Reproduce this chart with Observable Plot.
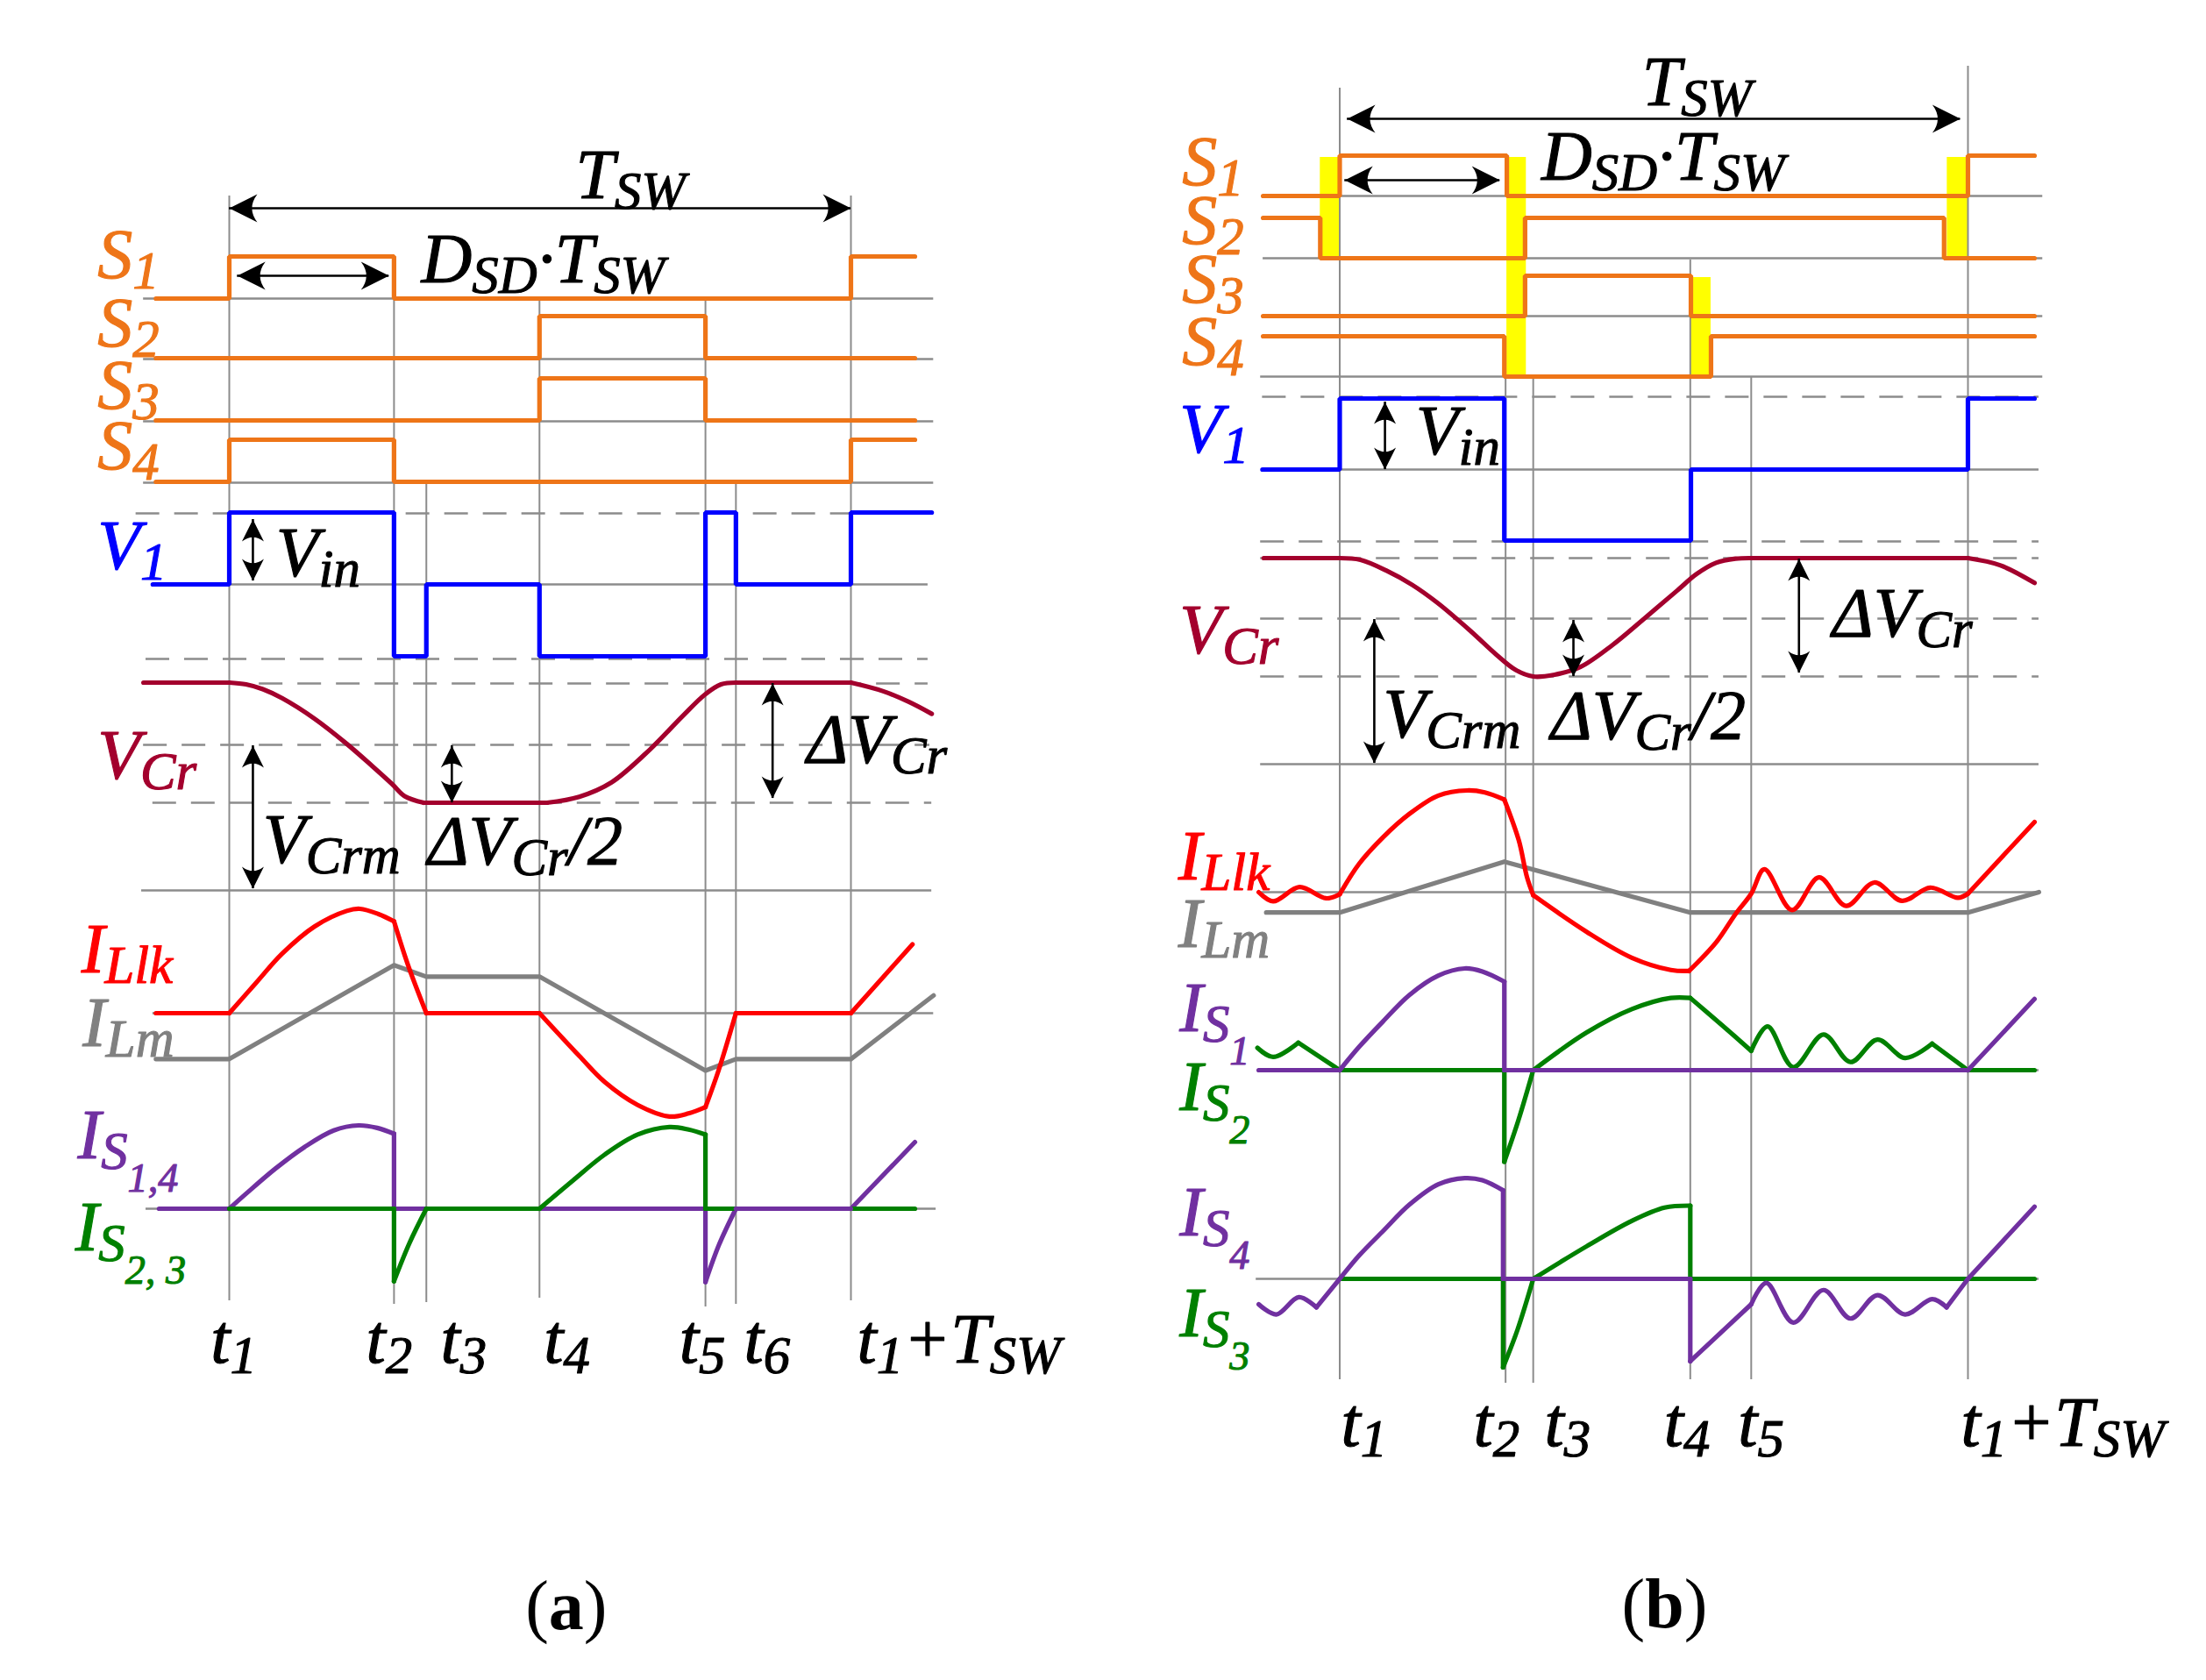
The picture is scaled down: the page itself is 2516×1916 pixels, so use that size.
<!DOCTYPE html>
<html>
<head>
<meta charset="utf-8">
<script src="https://cdn.jsdelivr.net/npm/d3@7"></script>
<script src="https://cdn.jsdelivr.net/npm/@observablehq/plot@0.6"></script>
<style>
  html, body { margin: 0; padding: 0; background: #ffffff; }
  #fig { position: relative; width: 2516px; height: 1916px; background: #ffffff; overflow: hidden; }
  #fig svg { position: absolute; top: 0; }
</style>
</head>
<body>
<div id="fig"></div>
<script>
// ===================== DATA (times normalised: t1 = 0, T_SW = 100) =====================
// ---- panel (a) ----
const eventsA = [0, 26.5, 31.7, 49.9, 76.6, 81.5, 100];
const eventLabelsA = ["t_1", "t_2", "t_3", "t_4", "t_5", "t_6", "t_1+T_{SW}"];
// gate signals [time, state]; state is held until the next time
const s1A = [[-11.8, 0], [0, 1], [26.5, 0], [100, 1], [110.3, 1]];
const s2A = [[-11.8, 0], [49.9, 1], [76.6, 0], [110.3, 0]];
const s3A = [[-11.8, 0], [49.9, 1], [76.6, 0], [110.3, 0]];
const s4A = [[-11.8, 0], [0, 1], [26.5, 0], [100, 1], [110.3, 1]];
// transformer primary voltage, in units of V_in
const v1A = [[-12.3, 0], [0, 1], [26.5, -1], [31.7, 0], [49.9, -1], [76.6, 1], [81.5, 0], [100, 1], [113, 1]];
// resonant capacitor voltage (+1 = V_Crm + ΔV_Cr/2, -1 = V_Crm - ΔV_Cr/2), smooth segments
const vCrA = [
  [[-13.8, 1], [0, 1]],
  [[0, 1], [2.7, 0.97], [5.4, 0.89], [8.5, 0.74], [13.7, 0.40], [18.9, -0.02], [23.0, -0.39], [26.2, -0.69], [28.2, -0.89], [31.3, -1]],
  [[31.3, -1], [51.1, -1]],
  [[51.1, -1], [56.3, -0.90], [61.5, -0.66], [67.7, -0.11], [72.9, 0.44], [76.5, 0.80], [79.1, 0.97], [81.5, 1]],
  [[81.5, 1], [100, 1]],
  [[100, 1], [105.1, 0.86], [109.3, 0.68], [113, 0.48]]
];
// leakage-inductance current (normalised to its peak), smooth segments
const iLlkA = [
  [[-11.8, 0], [0, 0]],
  [[0, 0], [4.3, 0.29], [8.5, 0.57], [13.7, 0.83], [18.9, 0.98], [21, 1.0], [24, 0.95], [26.5, 0.88]],
  [[26.5, 0.88], [28.7, 0.47], [31.7, 0]],
  [[31.7, 0], [49.9, 0]],
  [[49.9, 0], [56.3, -0.41], [60.4, -0.66], [65.7, -0.88], [70.8, -0.99], [73.9, -0.96], [76.6, -0.90]],
  [[76.6, -0.90], [78.7, -0.55], [81.5, 0]],
  [[81.5, 0], [100, 0]],
  [[100, 0], [109.9, 0.66]]
];
// magnetising current (piecewise linear)
const iLmA = [[-11.8, -0.44], [0, -0.44], [26.5, 0.46], [31.7, 0.35], [49.9, 0.35], [76.6, -0.55], [81.5, -0.44], [100, -0.44], [113.3, 0.17]];
// switch currents
const iS14A = [
  [[-11.3, 0], [0, 0]],
  [[0, 0], [2.7, 0.18], [7.4, 0.48], [12.1, 0.74], [16.8, 0.94], [20.8, 1.0], [23.8, 0.97], [26.5, 0.9]],
  [[26.5, 0.9], [26.5, 0]],
  [[26.5, 0], [76.6, 0]],
  [[76.6, 0], [76.6, -0.88]],
  [[76.6, -0.88], [78.8, -0.43], [81.5, 0]],
  [[81.5, 0], [100, 0]],
  [[100, 0], [110.3, 0.8]]
];
const iS23A = [
  [[0, 0], [26.5, 0]],
  [[26.5, 0], [26.5, -0.87]],
  [[26.5, -0.87], [29.0, -0.41], [31.7, 0]],
  [[31.7, 0], [49.9, 0]],
  [[49.9, 0], [55.3, 0.34], [60.4, 0.65], [65.7, 0.89], [70.8, 0.98], [73.9, 0.95], [76.6, 0.89]],
  [[76.6, 0.89], [76.6, 0]],
  [[76.6, 0], [81.5, 0]],
  [[81.5, 0], [100, 0]],
  [[100, 0], [110.3, 0]]
];

// ---- panel (b) ----
const eventsB = [0, 26.4, 30.8, 55.8, 65.5, 100];
const eventLabelsB = ["t_1", "t_2", "t_3", "t_4", "t_5", "t_1+T_{SW}"];
const s1B = [[-12.2, 0], [0, 1], [26.6, 0], [100, 1], [110.6, 1]];
const s2B = [[-12.2, 1], [-3.1, 0], [29.5, 1], [96.2, 0], [110.6, 0]];
const s3B = [[-12.2, 0], [29.5, 1], [55.9, 0], [110.6, 0]];
const s4B = [[-12.2, 1], [26.2, 0], [59.1, 1], [110.6, 1]];
// dead-time intervals (highlighted)
const deadStartB = [-3.1, 26.6, 55.9, 96.7];
const deadEndB = [0, 29.7, 59.1, 100];
const deadUpperRowB = [0, 0, 2, 0];   // index of the upper gate row involved
const deadLowerRowB = [1, 3, 3, 1];   // index of the lower gate row involved
const v1B = [[-12.3, 0], [0, 1], [26.2, -1], [55.9, 0], [100, 1], [110.6, 1]];
const vCrB = [
  [[-12.1, 1], [0, 1]],
  [[0, 1], [3.3, 0.97], [7.4, 0.79], [11.5, 0.55], [15.6, 0.24], [20.8, -0.23], [24.9, -0.63], [28.0, -0.89], [30.8, -1.0],
   [34.2, -0.97], [38.3, -0.84], [43.4, -0.47], [48.6, -0.01], [53.7, 0.45], [56.8, 0.73], [59.9, 0.92], [63.0, 0.99], [65.5, 1]],
  [[65.5, 1], [100, 1]],
  [[100, 1], [105.1, 0.88], [110.6, 0.58]]
];
const iLlkB = [
  [[-12.9, 0.0], [-10.6, -0.09], [-6.4, 0.05], [-2.2, -0.06], [0, -0.02]],
  [[0, -0.02], [3.1, 0.28], [6.9, 0.54], [11.1, 0.77], [15.7, 0.95], [20.3, 1.0], [23.1, 0.98], [26.2, 0.91]],
  [[26.2, 0.91], [28.5, 0.51], [29.8, 0.15], [30.8, -0.03]],
  [[30.8, -0.03], [39.3, -0.39], [46.5, -0.645], [52.7, -0.765], [55.6, -0.775]],
  [[55.6, -0.775], [59.9, -0.495], [63.0, -0.215], [65.5, -0.015], [67.6, 0.225], [72.0, -0.175], [76.3, 0.145], [80.6, -0.135],
   [85.1, 0.095], [89.5, -0.085], [94.0, 0.045], [98.4, -0.055], [100, -0.015]],
  [[100, -0.015], [110.6, 0.69]]
];
const iLmB = [[-11.7, -0.2], [0, -0.2], [26.2, 0.3], [55.8, -0.2], [100, -0.2], [111.3, 0.0]];
const iS1B = [
  [[-12.9, 0], [0, 0]],
  [[0, 0], [3.1, 0.23], [6.9, 0.48], [11.1, 0.74], [15.7, 0.93], [19.9, 1.0], [22.7, 0.97], [26.2, 0.87]],
  [[26.2, 0.87], [26.2, 0]],
  [[26.2, 0], [100, 0]],
  [[100, 0], [110.6, 0.7]]
];
const iS2B = [
  [[-13.1, 0.22], [-10.6, 0.13], [-6.6, 0.27]],
  [[-6.6, 0.27], [0, 0]],
  [[0, 0], [26.2, 0]],
  [[26.2, 0], [26.2, -0.9]],
  [[26.2, -0.9], [28.4, -0.5], [30.8, 0]],
  [[30.8, 0], [39.3, 0.37], [46.5, 0.60], [52.7, 0.71], [55.8, 0.71]],
  [[55.8, 0.71], [60.9, 0.44], [65.5, 0.19]],
  [[65.5, 0.19], [68.1, 0.43], [72.2, 0.03], [77.0, 0.35], [81.3, 0.08], [85.6, 0.30], [90.0, 0.12], [94.3, 0.26]],
  [[94.3, 0.26], [100, 0]],
  [[100, 0], [110.6, 0]]
];
const iS4B = [
  [[-12.9, -0.25], [-10.1, -0.35], [-6.5, -0.18], [-3.7, -0.28]],
  [[-3.7, -0.28], [0, 0], [3.1, 0.23], [6.9, 0.47], [11.1, 0.73], [15.7, 0.93], [19.9, 0.99], [22.7, 0.97], [26.0, 0.87]],
  [[26.0, 0.87], [26.0, 0]],
  [[26.0, 0], [55.8, 0]],
  [[55.8, 0], [55.8, -0.81]],
  [[55.8, -0.81], [65.5, -0.25]],
  [[65.5, -0.25], [67.9, -0.04], [72.2, -0.43], [77.0, -0.11], [81.3, -0.39], [85.6, -0.16], [90.0, -0.35], [94.3, -0.2], [96.6, -0.28]],
  [[96.6, -0.28], [100, 0]],
  [[100, 0], [110.6, 0.71]]
];
const iS3B = [
  [[0, 0], [26.0, 0]],
  [[26.0, 0], [26.0, -0.87]],
  [[26.0, -0.87], [28.3, -0.5], [30.8, 0]],
  [[30.8, 0], [39.3, 0.32], [46.5, 0.57], [51.7, 0.70], [55.8, 0.72]],
  [[55.8, 0.72], [55.8, 0]],
  [[55.8, 0], [110.6, 0]]
];

// label texts (underscore = subscript)
const rowLabelsA = ["S_1", "S_2", "S_3", "S_4", "V_1", "V_{Cr}", "I_{Llk}", "I_{Lm}", "I_{S_{1,4}}", "I_{S_{2, 3}}"];
const rowLabelsB = ["S_1", "S_2", "S_3", "S_4", "V_1", "V_{Cr}", "I_{Llk}", "I_{Lm}", "I_{S_1}", "I_{S_2}", "I_{S_4}", "I_{S_3}"];
const noteLabels = ["T_{SW}", "D_{SD}·T_{SW}", "V_{in}", "V_{Crm}", "ΔV_{Cr}/2", "ΔV_{Cr}"];
const captions = ["(a)", "(b)"];

// ===================== STYLE / LAYOUT =====================
const ORANGE = "#EE7518", BLUE = "#0000FF", VCR = "#A3002D", RED = "#FF0000", GRAYW = "#808080",
      PURPLE = "#7030A0", GREEN = "#008000", YELLOW = "#FFFF00", GRID = "#8C8C8C", BLACK = "#000000";
const FONT = "'Liberation Serif', 'DejaVu Serif', serif";
const LW = 5.2;

const rowColorsA = [ORANGE, ORANGE, ORANGE, ORANGE, BLUE, VCR, RED, GRAYW, PURPLE, GREEN];
const rowColorsB = [ORANGE, ORANGE, ORANGE, ORANGE, BLUE, VCR, RED, GRAYW, PURPLE, GREEN, PURPLE, GREEN];

const layoutA = {
  left: 0, xRange: [261, 970],
  sBase: [340, 408, 479, 549], sAmp: 48,
  v1Base: 666, v1Amp: 82,
  vcrMid: 846.5, vcrAmp: 68.5,
  iLBase: 1155, iLAmp: 119,
  iSBase: 1378, iSAmp: 95,
  hlines: [
    {y: 340, a: -13.8, b: 113.3}, {y: 409, a: -13.8, b: 113.3}, {y: 480, a: -13.8, b: 113.3}, {y: 550, a: -13.8, b: 113.3},
    {y: 585, a: -15.0, b: 112.4, dash: true}, {y: 666, a: -12.3, b: 112.4}, {y: 751, a: -13.4, b: 112.4, dash: true},
    {y: 779, a: -13.8, b: 112.4, dash: true}, {y: 849, a: -13.8, b: 112.7, dash: true}, {y: 915, a: -12.3, b: 113, dash: true},
    {y: 1015, a: -14.1, b: 113}, {y: 1155, a: -12.3, b: 113.3}, {y: 1378, a: -13.4, b: 113.7}
  ],
  gridTop: [223, 341, 552, 341, 338, 552, 223],
  gridBottom: [1483, 1487, 1485, 1480, 1490, 1487, 1483],
  labelX: [-21.2, -21.2, -21.2, -21.2, -21.2, -21.2, -23.8, -23.6, -24.4, -24.8],
  labelY: [316, 394, 465, 534, 648, 887, 1108, 1192, 1320, 1425],
  noteX: [55.7, 30.9, 7.5, 5.4, 31.9, 92.9],
  noteY: [225, 321, 656, 983, 985, 869],
  tickX: [-3.0, 22.0, 34.0, 50.6, 72.4, 82.8, 101.0],
  tickY: 1553,
  capX: 54.2, capY: 1832,
  hArrows: [{y: 237, a: 0, b: 100}, {y: 314, a: 1.3, b: 25.7}],
  vArrows: [{t: 3.8, top: 592, bottom: 662}, {t: 3.8, top: 850, bottom: 1013}, {t: 35.8, top: 850, bottom: 915}, {t: 87.4, top: 779, bottom: 910}]
};
const layoutB = {
  left: 1258, xRange: [1527.5 - 1258, 2244 - 1258],
  sBase: [223, 294, 360, 429], sAmp: 46,
  v1Base: 535, v1Amp: 81,
  vcrMid: 703.5, vcrAmp: 67.5,
  iLBase: 1017, iLAmp: 116,
  iS1Base: 1220, iS4Base: 1458, iSAmp: 116,
  hlines: [
    {y: 223, a: -12.2, b: 111.9}, {y: 294, a: -12.2, b: 111.9}, {y: 360, a: -12.2, b: 111.9}, {y: 429, a: -12.6, b: 111.9},
    {y: 452, a: -12.3, b: 111.3, dash: true}, {y: 535, a: -12.2, b: 111.3}, {y: 617, a: -12.6, b: 111.3, dash: true},
    {y: 636, a: -12.6, b: 111.3, dash: true}, {y: 705, a: -12.6, b: 111.3, dash: true}, {y: 771, a: -12.6, b: 111.3, dash: true},
    {y: 871, a: -12.6, b: 111.3}, {y: 1017, a: -12.6, b: 111.3}, {y: 1220, a: -12.6, b: 111.3}, {y: 1458, a: -13.3, b: 111.3}
  ],
  gridTop: [100, 429, 429, 296, 429, 75],
  gridBottom: [1573, 1577, 1577, 1573, 1573, 1573],
  labelX: [-25.1, -25.1, -25.1, -25.1, -25.5, -25.5, -25.7, -25.7, -25.5, -25.5, -25.5, -25.5],
  labelY: [210, 277, 344, 415, 515, 744, 1002, 1079, 1175, 1265, 1408, 1523],
  noteX: [48.1, 32.1, 12.1, 6.9, 33.6, 78.4],
  noteY: [119, 204, 517, 840, 842, 725],
  tickX: [0.2, 21.3, 32.6, 51.6, 63.4, 98.9],
  tickY: 1648,
  capX: 51.7, capY: 1830,
  hArrows: [{y: 135, a: 1.2, b: 98.8}, {y: 205, a: 0.8, b: 25.5}],
  vArrows: [{t: 7.2, top: 458, bottom: 535}, {t: 5.5, top: 706, bottom: 870}, {t: 37.2, top: 707, bottom: 771}, {t: 73.1, top: 637, bottom: 767}]
};

// ===================== HELPERS =====================
function stepRows(pts, base, amp, key) {
  return pts.map(([t, v]) => ({t, y: base - v * amp, z: key}));
}
function segRows(segs, base, amp, key) {
  return segs.flatMap((seg, i) => seg.map(([t, v]) => ({t, y: base - v * amp, z: key + "-" + i})));
}
function polyRows(pts, base, amp, key) {
  return pts.map(([t, v]) => ({t, y: base - v * amp, z: key}));
}
const headRight = {draw(c, size) { const r = Math.sqrt(size / Math.PI); c.moveTo(0, 0); c.lineTo(-r, -0.5 * r); c.quadraticCurveTo(-0.62 * r, 0, -r, 0.5 * r); c.closePath(); }};
const headLeft  = {draw(c, size) { const r = Math.sqrt(size / Math.PI); c.moveTo(0, 0); c.lineTo(r, -0.5 * r); c.quadraticCurveTo(0.62 * r, 0, r, 0.5 * r); c.closePath(); }};
const headUp    = {draw(c, size) { const r = Math.sqrt(size / Math.PI); c.moveTo(0, 0); c.lineTo(-0.5 * r, r); c.quadraticCurveTo(0, 0.62 * r, 0.5 * r, r); c.closePath(); }};
const headDown  = {draw(c, size) { const r = Math.sqrt(size / Math.PI); c.moveTo(0, 0); c.lineTo(-0.5 * r, -r); c.quadraticCurveTo(0, -0.62 * r, 0.5 * r, -r); c.closePath(); }};

function waveLine(rows, color, curve) {
  return Plot.line(rows, {x: "t", y: "y", z: "z", stroke: color, strokeWidth: LW, curve,
    strokeLinecap: "round", strokeLinejoin: curve === "step-after" ? "miter" : "round"});
}

function commonMarks(L, events) {
  const m = [];
  m.push(Plot.ruleY(L.hlines.filter(d => !d.dash), {y: "y", x1: "a", x2: "b", stroke: GRID, strokeWidth: 2.3}));
  m.push(Plot.ruleY(L.hlines.filter(d => d.dash), {y: "y", x1: "a", x2: "b", stroke: GRID, strokeWidth: 2.4, strokeDasharray: "27,17"}));
  const vg = events.map((t, i) => ({t, top: L.gridTop[i], bottom: L.gridBottom[i]}));
  m.push(Plot.ruleX(vg, {x: "t", y1: "top", y2: "bottom", stroke: GRID, strokeWidth: 2}));
  return m;
}
function annotationMarks(L, rowLabels, rowColors, eventLabels, caption) {
  const m = [];
  // arrows
  m.push(Plot.ruleY(L.hArrows, {y: "y", x1: "a", x2: "b", stroke: BLACK, strokeWidth: 2.6}));
  m.push(Plot.dot(L.hArrows, {x: "a", y: "y", r: 32, symbol: headLeft, fill: BLACK, stroke: "none"}));
  m.push(Plot.dot(L.hArrows, {x: "b", y: "y", r: 32, symbol: headRight, fill: BLACK, stroke: "none"}));
  m.push(Plot.ruleX(L.vArrows, {x: "t", y1: "top", y2: "bottom", stroke: BLACK, strokeWidth: 2.6}));
  m.push(Plot.dot(L.vArrows, {x: "t", y: "top", r: 25, symbol: headUp, fill: BLACK, stroke: "none"}));
  m.push(Plot.dot(L.vArrows, {x: "t", y: "bottom", r: 25, symbol: headDown, fill: BLACK, stroke: "none"}));
  // texts
  const rows = rowLabels.map((s, i) => ({t: L.labelX[i], y: L.labelY[i], s, c: rowColors[i]}));
  const notes = noteLabels.map((s, i) => ({t: L.noteX[i], y: L.noteY[i], s, c: BLACK}));
  const ticks = eventLabels.map((s, i) => ({t: L.tickX[i], y: L.tickY, s, c: BLACK}));
  const all = rows.concat(notes, ticks);
  m.push(Plot.text(all, {x: "t", y: "y", text: "s", fill: "c", stroke: "c", strokeWidth: 1.1,
    fontFamily: FONT, fontSize: 80, fontStyle: "italic", textAnchor: "start", lineAnchor: "bottom"}));
  m.push(Plot.text([{t: L.capX, y: L.capY, s: caption}], {x: "t", y: "y", text: "s", fill: BLACK,
    fontFamily: FONT, fontSize: 80, textAnchor: "middle", lineAnchor: "middle"}));
  return m;
}

function plotPanel(L, marks) {
  const svg = Plot.plot({
    width: 1258, height: 1916,
    x: {domain: [0, 100], range: L.xRange, axis: null},
    y: {domain: [0, 1916], range: [0, 1916], axis: null},
    color: {type: "identity"},
    style: {background: "transparent", overflow: "visible"},
    marks
  });
  svg.style.left = L.left + "px";
  return svg;
}

// ---------- subscripts rendered as real text (tspans) ----------
function parseSub(s) {
  const out = [];
  (function rec(str, level) {
    let i = 0, buf = "";
    while (i < str.length) {
      const c = str[i];
      if (c === "_") {
        if (buf) { out.push({text: buf, level}); buf = ""; }
        if (str[i + 1] === "{") {
          let depth = 1, j = i + 2;
          while (j < str.length && depth > 0) { if (str[j] === "{") depth++; else if (str[j] === "}") depth--; j++; }
          rec(str.slice(i + 2, j - 1), level + 1);
          i = j;
        } else { rec(str[i + 1], level + 1); i += 2; }
      } else { buf += c; i++; }
    }
    if (buf) out.push({text: buf, level});
  })(s, 0);
  return out;
}
function richText(svg) {
  const NS = "http://www.w3.org/2000/svg";
  const scale = [1, 0.76, 0.76 * 0.76];
  d3.select(svg).selectAll("text").each(function () {
    const s = this.textContent;
    const cap = /^\((.)\)$/.exec(s);
    if (cap) {
      this.textContent = "";
      [["(", "normal"], [cap[1], "bold"], [")", "normal"]].forEach(([txt, w]) => {
        const ts = document.createElementNS(NS, "tspan");
        ts.setAttribute("font-weight", w);
        ts.textContent = txt;
        this.appendChild(ts);
      });
      return;
    }
    if (!s.includes("_")) return;
    const fs = parseFloat(getComputedStyle(this).fontSize) || 80;
    const segs = parseSub(s);
    this.textContent = "";
    let cur = 0;
    for (const seg of segs) {
      const size = fs * scale[Math.min(seg.level, 2)];
      const off = seg.level === 0 ? 0 : seg.level === 1 ? 0.16 * fs : 0.16 * fs + 0.42 * fs * scale[1];
      const ts = document.createElementNS(NS, "tspan");
      ts.setAttribute("font-size", size.toFixed(1));
      ts.setAttribute("dy", (off - cur).toFixed(1));
      ts.textContent = seg.text;
      this.appendChild(ts);
      cur = off;
    }
  });
}

// ===================== PANEL (a) =====================
const A = layoutA;
const marksA = [
  ...commonMarks(A, eventsA),
  waveLine([s1A, s2A, s3A, s4A].flatMap((s, i) => stepRows(s, A.sBase[i], A.sAmp, "s" + i)), ORANGE, "step-after"),
  waveLine(stepRows(v1A, A.v1Base, A.v1Amp, "v1"), BLUE, "step-after"),
  waveLine(segRows(vCrA, A.vcrMid, A.vcrAmp, "vcr"), VCR, "catmull-rom"),
  waveLine(polyRows(iLmA, A.iLBase, A.iLAmp, "ilm"), GRAYW, "linear"),
  waveLine(segRows(iLlkA, A.iLBase, A.iLAmp, "illk"), RED, "catmull-rom"),
  waveLine(segRows(iS14A, A.iSBase, A.iSAmp, "is14"), PURPLE, "catmull-rom"),
  waveLine(segRows(iS23A, A.iSBase, A.iSAmp, "is23"), GREEN, "catmull-rom"),
  // zero interval t6..t1+Tsw where the S1,4 trace lies on top
  waveLine(segRows(iS14A.filter(sg => sg[0][0] >= 81.5 && sg[sg.length - 1][0] <= 100), A.iSBase, A.iSAmp, "is14top"), PURPLE, "catmull-rom"),
  ...annotationMarks(A, rowLabelsA, rowColorsA, eventLabelsA, captions[0])
];

// ===================== PANEL (b) =====================
const B = layoutB;
const deadRows = deadStartB.map((a, i) => ({
  a, b: deadEndB[i],
  top: B.sBase[deadUpperRowB[i]] - B.sAmp + 2,
  bottom: B.sBase[deadLowerRowB[i]]
}));
const marksB = [
  Plot.rect(deadRows, {x1: "a", x2: "b", y1: "top", y2: "bottom", fill: YELLOW}),
  ...commonMarks(B, eventsB),
  waveLine([s1B, s2B, s3B, s4B].flatMap((s, i) => stepRows(s, B.sBase[i], B.sAmp, "s" + i)), ORANGE, "step-after"),
  waveLine(stepRows(v1B, B.v1Base, B.v1Amp, "v1"), BLUE, "step-after"),
  waveLine(segRows(vCrB, B.vcrMid, B.vcrAmp, "vcr"), VCR, "catmull-rom"),
  waveLine(polyRows(iLmB, B.iLBase, B.iLAmp, "ilm"), GRAYW, "linear"),
  waveLine(segRows(iLlkB, B.iLBase, B.iLAmp, "illk"), RED, "catmull-rom"),
  waveLine(segRows(iS2B, B.iS1Base, B.iSAmp, "is2"), GREEN, "catmull-rom"),
  waveLine(segRows(iS1B, B.iS1Base, B.iSAmp, "is1"), PURPLE, "catmull-rom"),
  waveLine(segRows(iS3B, B.iS4Base, B.iSAmp, "is3"), GREEN, "catmull-rom"),
  waveLine(segRows(iS4B, B.iS4Base, B.iSAmp, "is4"), PURPLE, "catmull-rom"),
  ...annotationMarks(B, rowLabelsB, rowColorsB, eventLabelsB, captions[1])
];

const fig = document.getElementById("fig");
const svgA = plotPanel(A, marksA);
const svgB = plotPanel(B, marksB);
fig.appendChild(svgA);
fig.appendChild(svgB);
richText(svgA);
richText(svgB);
</script>
</body>
</html>
